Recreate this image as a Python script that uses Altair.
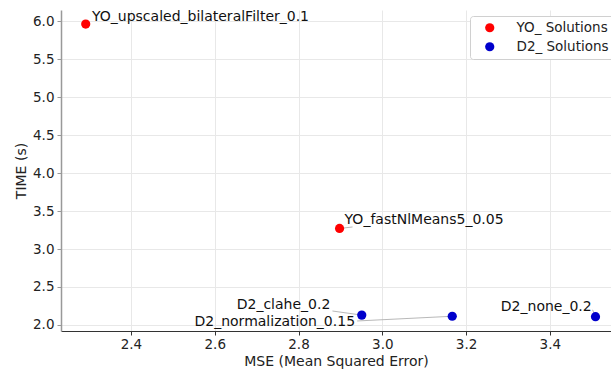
import altair as alt
import pandas as pd

labels = ["YO_upscaled_bilateralFilter_0.1", "YO_fastNlMeans5_0.05", "D2_clahe_0.2",
          "D2_normalization_0.15", "D2_none_0.2"]
groups = ["YO_ Solutions", "YO_ Solutions", "D2_ Solutions", "D2_ Solutions", "D2_ Solutions"]
mse = [2.292, 2.898, 2.951, 3.167, 3.509]
time_s = [5.96, 3.27, 2.13, 2.115, 2.11]
# label anchor positions (as placed by a text-repel step), in data units
label_x = [2.307, 2.910, 2.876, 2.935, 3.500]
label_y = [6.05, 3.38, 2.263, 2.04, 2.237]
label_side = ["left", "left", "right", "right", "right"]
# leader line ends near the labels
lead_x = [None, 2.929, 2.881, 2.940, 3.502]
lead_y = [None, 3.29, 2.184, 2.053, 2.20]

group_order = ["YO_ Solutions", "D2_ Solutions"]
group_colors = ["#ff0000", "#0000cc"]

df = pd.DataFrame({
    "label": labels, "group": groups, "mse": mse, "time": time_s,
    "lx": label_x, "ly": label_y, "side": label_side,
    "ex": lead_x, "ey": lead_y,
})

xs = alt.Scale(domain=[2.233, 3.546], nice=False, zero=False)
ys = alt.Scale(domain=[1.921, 6.145], nice=False, zero=False)

FONT = "DejaVu Sans"

base = alt.Chart(df)

leaders = base.transform_filter("isValid(datum.ex)").mark_rule(
    color="#b0b0b0", strokeWidth=0.9
).encode(
    x=alt.X("mse:Q", scale=xs),
    y=alt.Y("time:Q", scale=ys),
    x2="ex:Q", y2="ey:Q",
)

points = base.mark_circle(size=85, opacity=1).encode(
    x=alt.X("mse:Q", scale=xs,
            axis=alt.Axis(title="MSE (Mean Squared Error)", values=[2.4, 2.6, 2.8, 3.0, 3.2, 3.4],
                          format=".1f", labelFont=FONT, labelFontSize=13.5, labelColor="#222",
                          titleFont=FONT, titleFontSize=14, titleColor="#222",
                          titleFontWeight="normal", titlePadding=4,
                          grid=True, gridColor="#e8e8e8", tickSize=4, labelPadding=2,
                          domainColor="#333", domainWidth=1.2, tickColor="#333")),
    y=alt.Y("time:Q", scale=ys,
            axis=alt.Axis(title="TIME (s)", values=[2.0, 2.5, 3.0, 3.5, 4.0, 4.5, 5.0, 5.5, 6.0],
                          format=".1f", labelFont=FONT, labelFontSize=13.5, labelColor="#222",
                          titleFont=FONT, titleFontSize=14, titleColor="#222",
                          titleFontWeight="normal", titlePadding=4,
                          grid=True, gridColor="#e8e8e8", tickSize=4, labelPadding=3,
                          domainColor="#999", domainWidth=1.5, tickColor="#999")),
    color=alt.Color("group:N", scale=alt.Scale(domain=group_order, range=group_colors),
                    legend=alt.Legend(title=None, orient="none", legendX=409, legendY=6,
                                      symbolType="circle", symbolSize=85,
                                      symbolStrokeWidth=0, symbolOffset=8,
                                      labelFont=FONT, labelFontSize=13.5, labelColor="#222",
                                      labelOffset=20, rowPadding=4, padding=5,
                                      fillColor="white", strokeColor="#d0d0d0",
                                      cornerRadius=3)),
)

text_left = base.transform_filter("datum.side == 'left'").mark_text(
    align="left", baseline="middle", fontSize=14, font=FONT, color="#111"
).encode(x=alt.X("lx:Q", scale=xs), y=alt.Y("ly:Q", scale=ys), text="label:N")

text_right = base.transform_filter("datum.side == 'right'").mark_text(
    align="right", baseline="middle", fontSize=14, font=FONT, color="#111"
).encode(x=alt.X("lx:Q", scale=xs), y=alt.Y("ly:Q", scale=ys), text="label:N")

chart = alt.layer(leaders, points, text_left, text_right).properties(
    width=550, height=321,
    autosize=alt.AutoSizeParams(type="none"),
    padding={"left": 61, "top": 10, "right": 0, "bottom": 38},
).configure(
    font=FONT,
).configure_view(
    stroke=None,
)

chart.save("out.html", embed_options={"renderer": "svg", "actions": False})
